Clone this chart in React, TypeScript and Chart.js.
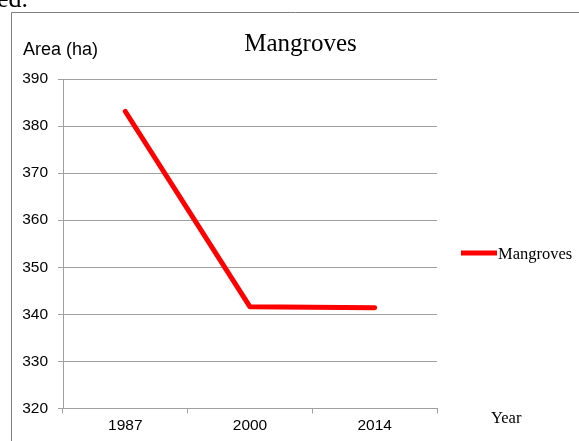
import React, { useEffect, useRef } from "react";
import { Chart, registerables } from "chart.js";

Chart.register(...registerables);

const categories = ["1987", "2000", "2014"];
const seriesName = "Mangroves";
const mangroveArea = [383.1, 341.6, 341.4];
const yTicks = [320, 330, 340, 350, 360, 370, 380, 390];
const chartTitle = "Mangroves";
const yAxisTitle = "Area (ha)";
const xAxisTitle = "Year";
const pageFragment = "ed.";

const W = 579;
const H = 441;

export default function App() {
  const ref = useRef<HTMLCanvasElement | null>(null);

  useEffect(() => {
    const canvas = ref.current;
    if (!canvas) return;

    const decor = {
      id: "decor",
      afterDraw(chart: any) {
        const ctx = chart.ctx;
        ctx.save();
        // outer frame
        ctx.strokeStyle = "#808080";
        ctx.lineWidth = 1;
        ctx.beginPath();
        ctx.moveTo(11.5, H + 5);
        ctx.lineTo(11.5, 12.5);
        ctx.lineTo(W + 5, 12.5);
        ctx.stroke();

        // fragment of surrounding document text
        ctx.fillStyle = "#000";
        ctx.textAlign = "left";
        ctx.textBaseline = "alphabetic";
        ctx.font = "26px 'Liberation Serif', 'Times New Roman', serif";
        ctx.fillText(pageFragment, -3, 7);

        // title
        ctx.font = "25px 'Liberation Serif', 'Times New Roman', serif";
        ctx.textAlign = "center";
        ctx.fillText(chartTitle, 300.5, 50.5);

        // y axis title
        ctx.font = "18px 'Liberation Sans', Arial, sans-serif";
        ctx.textAlign = "left";
        ctx.fillText(yAxisTitle, 23, 54.5);

        // x axis title
        ctx.font = "16.5px 'Liberation Serif', 'Times New Roman', serif";
        ctx.fillText(xAxisTitle, 491, 423);

        // legend
        const ds = chart.data.datasets[0];
        ctx.strokeStyle = ds.borderColor;
        ctx.lineWidth = 5;
        ctx.lineCap = "butt";
        ctx.beginPath();
        ctx.moveTo(461, 253);
        ctx.lineTo(497, 253);
        ctx.stroke();
        ctx.font = "16.5px 'Liberation Serif', 'Times New Roman', serif";
        ctx.fillStyle = "#000";
        ctx.fillText(ds.label, 498, 259);
        ctx.restore();
      },
    };

    const chart = new Chart(canvas, {
      type: "line",
      data: {
        labels: categories,
        datasets: [
          {
            label: seriesName,
            data: mangroveArea,
            borderColor: "#ff0000",
            backgroundColor: "#ff0000",
            borderWidth: 5,
            pointRadius: 0,
            pointHoverRadius: 0,
            tension: 0,
            borderCapStyle: "round",
            borderJoinStyle: "round",
          },
        ],
      },
      options: {
        responsive: false,
        animation: false,
        layout: { padding: { left: 0, right: 142, top: 79, bottom: 0 } },
        plugins: {
          legend: { display: false },
          title: { display: false },
          tooltip: { enabled: false },
        },
        scales: {
          x: {
            type: "category",
            offset: true,
            afterFit(scale: any) {
              scale.height = 32.5;
            },
            grid: {
              offset: true,
              drawOnChartArea: false,
              drawTicks: true,
              tickLength: 5,
              color: "#a0a0a0",
            },
            border: { display: true, color: "#a0a0a0", width: 1 },
            ticks: {
              color: "#000",
              padding: 3,
              maxRotation: 0,
              font: { family: "'Liberation Sans', Arial, sans-serif", size: 15.5 },
            },
          },
          y: {
            min: 320,
            max: 390,
            afterFit(scale: any) {
              scale.width = 63;
            },
            afterBuildTicks(scale: any) {
              scale.ticks = yTicks.map((v) => ({ value: v }));
            },
            grid: {
              drawOnChartArea: true,
              drawTicks: true,
              tickLength: 5,
              color: "#a0a0a0",
            },
            border: { display: true, color: "#a0a0a0", width: 1 },
            ticks: {
              color: "#000",
              padding: 10,
              font: { family: "'Liberation Sans', Arial, sans-serif", size: 15.5 },
            },
          },
        },
      },
      plugins: [decor],
    });

    return () => chart.destroy();
  }, []);

  return (
    <div style={{ position: "absolute", left: 0, top: 0, width: W, height: H, background: "#fff" }}>
      <canvas ref={ref} width={W} height={H} style={{ display: "block", width: W, height: H }} />
    </div>
  );
}
